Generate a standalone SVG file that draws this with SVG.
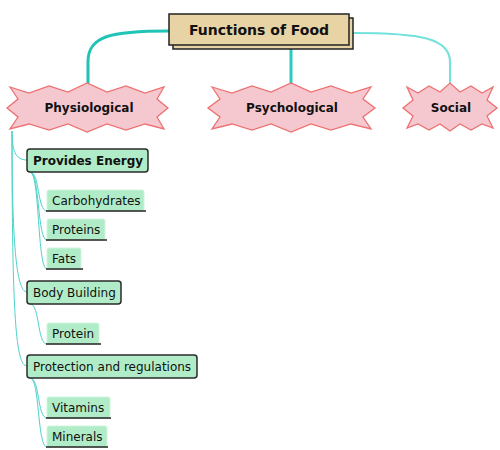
<svg xmlns="http://www.w3.org/2000/svg" width="500" height="450" viewBox="0 0 500 450">
<style>
text{font-family:"DejaVu Sans",Verdana,"Liberation Sans",sans-serif;fill:#111}
.root{fill:#e8d3a5;stroke:#222;stroke-width:1.5}
.star{fill:#f5c8d0;stroke:#ee7070;stroke-width:1.3}
.b{font-weight:bold}
.mid{fill:#b1ecc8;stroke:#2b2b2b;stroke-width:1.5}
.leaf{fill:#b1ecc8;stroke:#cdf4dc;stroke-width:1}
.ul{stroke:#222;stroke-width:1.5}
.c1{fill:none;stroke:#1fc4b6;stroke-width:3}
.c2{fill:none;stroke:#2ccbc0;stroke-width:3}
.c3{fill:none;stroke:#72e2dc;stroke-width:2}
.cs{fill:none;stroke:#4ed2ca;stroke-width:1}
</style>
<g id="connectors">
<path class="c1" d="M169,31 C110,31 88,36 88,62 L88,85"/>
<path class="c2" d="M291,49 L291,84"/>
<path class="c3" d="M353,33 C420,33 450,38 450,62 L450,84"/>
<path class="cs" d="M12,131 C12,150 15,160 27,160"/>
<path class="cs" d="M12,131 C12,240 16,292 27,292"/>
<path class="cs" d="M12,131 C12,320 16,366 27,366"/>
<path class="cs" d="M30,172 C40,172 37,211 47,211"/>
<path class="cs" d="M30,172 C40,172 37,240 47,240"/>
<path class="cs" d="M30,172 C40,172 37,269 47,269"/>
<path class="cs" d="M30,304 C40,304 37,344 47,344"/>
<path class="cs" d="M30,378 C40,378 37,418 47,418"/>
<path class="cs" d="M30,378 C40,378 37,447 47,447"/>
</g>
<g id="root">
<rect class="root" x="173" y="18" width="180" height="31"/>
<rect class="root" x="169" y="14" width="180" height="31"/>
<text class="b" x="259" y="35" font-size="14" text-anchor="middle">Functions of Food</text>
</g>
<g id="physiological">
<polygon class="star" points="10,87 29,93 49,86 68,92 87,83 107,92 126,86 145,93 164,87 157,99 168,108 157,117 164,129 145,124 126,130 107,124 87,132 68,124 49,130 29,124 10,129 18,117 7,108 18,99"/>
<text class="b" x="89" y="112" font-size="12" text-anchor="middle">Physiological</text>
</g>
<g id="psychological">
<polygon class="star" points="212,87 232,93 252,86 271,92 291,83 311,92 331,86 351,93 371,87 363,99 375,108 363,117 371,129 351,124 331,130 311,124 291,132 271,124 252,130 232,124 212,129 220,117 208,108 220,99"/>
<text class="b" x="292" y="112" font-size="12" text-anchor="middle">Psychological</text>
</g>
<g id="social">
<polygon class="star" points="407,87 418,93 429,86 440,92 450,83 460,92 471,86 482,93 493,87 487,100 497,108 487,116 493,128 482,124 471,130 460,124 450,131 440,124 429,130 418,124 407,128 413,116 403,108 413,100"/>
<text class="b" x="451" y="112" font-size="12" text-anchor="middle">Social</text>
</g>
<g id="provides-energy">
<rect class="mid" x="27" y="149" width="121" height="23" rx="3"/>
<text class="b" x="33" y="165" font-size="12">Provides Energy</text>
</g>
<g id="carbohydrates">
<rect class="leaf" x="47" y="190" width="97" height="21" rx="2"/>
<line class="ul" x1="46" y1="211" x2="146" y2="211"/>
<text x="52" y="205" font-size="12">Carbohydrates</text>
</g>
<g id="proteins">
<rect class="leaf" x="47" y="219" width="58" height="21" rx="2"/>
<line class="ul" x1="46" y1="240" x2="107" y2="240"/>
<text x="52" y="234" font-size="12">Proteins</text>
</g>
<g id="fats">
<rect class="leaf" x="47" y="248" width="34" height="21" rx="2"/>
<line class="ul" x1="46" y1="269" x2="83" y2="269"/>
<text x="52" y="263" font-size="12">Fats</text>
</g>
<g id="body-building">
<rect class="mid" x="27" y="281" width="94" height="23" rx="3"/>
<text x="33" y="297" font-size="12">Body Building</text>
</g>
<g id="protein">
<rect class="leaf" x="47" y="323" width="52" height="21" rx="2"/>
<line class="ul" x1="46" y1="344" x2="101" y2="344"/>
<text x="52" y="338" font-size="12">Protein</text>
</g>
<g id="protection">
<rect class="mid" x="27" y="355" width="170" height="23" rx="3"/>
<text x="33" y="371" font-size="12">Protection and regulations</text>
</g>
<g id="vitamins">
<rect class="leaf" x="47" y="397" width="63" height="21" rx="2"/>
<line class="ul" x1="46" y1="418" x2="111" y2="418"/>
<text x="52" y="412" font-size="12">Vitamins</text>
</g>
<g id="minerals">
<rect class="leaf" x="47" y="426" width="60" height="21" rx="2"/>
<line class="ul" x1="46" y1="447" x2="108" y2="447"/>
<text x="52" y="441" font-size="12">Minerals</text>
</g>
</svg>
